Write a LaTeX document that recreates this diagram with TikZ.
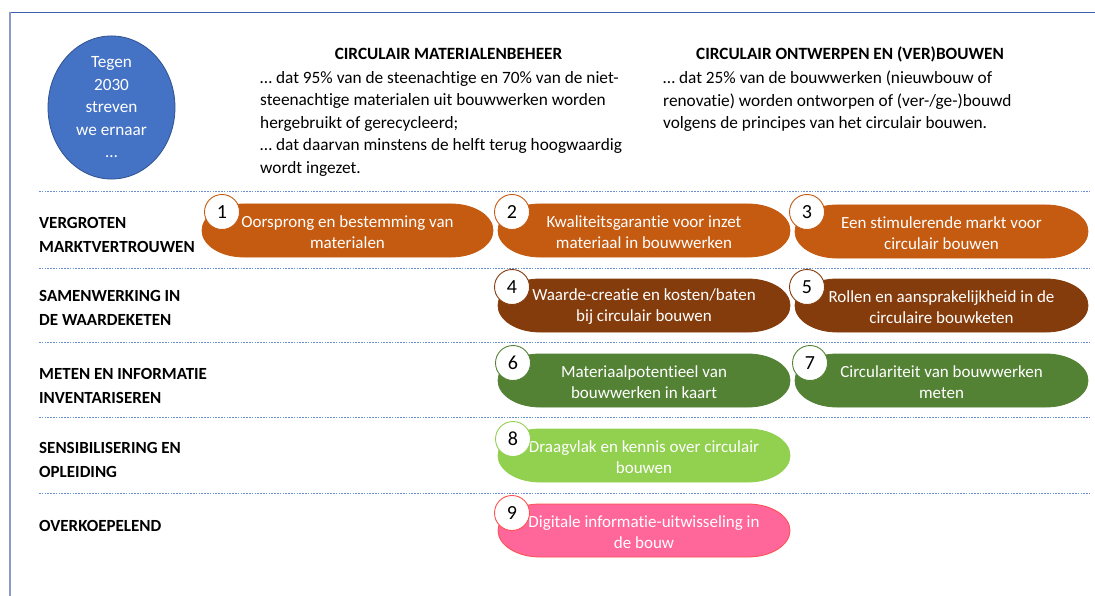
\documentclass[tikz,border=0pt]{standalone}
\usepackage{fontspec}
\setmainfont{Carlito}[Ligatures={NoCommon}]
\usetikzlibrary{shapes.geometric}
\definecolor{cOrange}{HTML}{C55A11}
\definecolor{cBrown}{HTML}{843C0C}
\definecolor{cGreen}{HTML}{548235}
\definecolor{cLight}{HTML}{92D050}
\definecolor{cPink}{HTML}{FF6699}
\definecolor{cRed}{HTML}{FF4F4F}
\definecolor{cBlue}{HTML}{4472C4}
\definecolor{cBlueDark}{HTML}{2F528F}
\definecolor{cFrameTop}{HTML}{3A62AE}
\definecolor{cFrameLeft}{HTML}{8A9CC6}
\definecolor{cSep}{HTML}{6A8FD0}
\tikzset{
  pillshape/.style={fill=#1, draw=#1, line width=0.8pt},
  pilltext/.style={text=white, align=center, inner sep=0pt,
    font=\fontsize{17}{21}\selectfont},
  numcircle/.style={circle, fill=white, draw=#1, line width=0.9pt,
    minimum size=35pt, inner sep=0pt, text=black,
    font=\fontsize{20}{22}\selectfont},
  rowlabel/.style={anchor=west, align=left, inner sep=0pt,
    font=\bfseries\fontsize{17}{24}\selectfont},
  headtitle/.style={inner sep=0pt, font=\bfseries\fontsize{17.2}{20}\selectfont},
  headbody/.style={anchor=north west, align=left, inner sep=0pt,
    font=\fontsize{17.3}{22.5}\selectfont},
  sepline/.style={draw=cSep, line width=0.8pt, dash pattern=on 1.6pt off 1.2pt},
}
\newcommand\mypill[4]{%
  \path[pillshape=#4] (#1+42,#2) -- (#3-42,#2)
    arc[start angle=-90,end angle=90,x radius=42,y radius=26.5]
    -- (#1+42,#2+53)
    arc[start angle=90,end angle=270,x radius=42,y radius=26.5] -- cycle;}
\begin{document}
\begin{tikzpicture}[x=1pt,y=-1pt]
\useasboundingbox (0,0) rectangle (1095,596);
\fill[white] (0,0) rectangle (1095,596);
% frame
\draw[cFrameTop, line width=1.2pt] (10,12.5) -- (1095,12.5);
\draw[cFrameLeft, line width=1.8pt] (10,12.5) -- (10,596);
% goal ellipse
\node[ellipse, fill=cBlue, draw=cBlueDark, line width=0.8pt,
  minimum width=127pt, minimum height=141pt, inner sep=0pt,
  text=white, align=center, font=\fontsize{17.2}{22.5}\selectfont]
  (goal) at (111.5,107.5) {Tegen\\2030\\streven\\we ernaar\\…};
% headers
\node[headtitle] (h1) at (448.5,54) {CIRCULAIR MATERIALENBEHEER};
\node[headbody] (b1) at (260,71) {… dat 95\% van de steenachtige en 70\% van de niet-\\steenachtige materialen uit bouwwerken worden\\hergebruikt of gerecycleerd;\\… dat daarvan minstens de helft terug hoogwaardig\\wordt ingezet.};
\node[headtitle] (h2) at (850,54) {CIRCULAIR ONTWERPEN EN (VER)BOUWEN};
\node[headbody] (b2) at (663,71) {… dat 25\% van de bouwwerken (nieuwbouw of\\renovatie) worden ontworpen of (ver-/ge-)bouwd\\volgens de principes van het circulair bouwen.};
% separators
\foreach \yy in {191.5,268,342,417.5,493.5}
  \draw[sepline] (39,\yy) -- (1090,\yy);
% row labels
\node[rowlabel] (r1) at (39,235) {VERGROTEN\\MARKTVERTROUWEN};
\node[rowlabel] (r2) at (39,308) {SAMENWERKING IN\\DE WAARDEKETEN};
\node[rowlabel] (r3) at (39,386) {METEN EN INFORMATIE\\INVENTARISEREN};
\node[rowlabel] (r4) at (39,460) {SENSIBILISERING EN\\OPLEIDING};
\node[rowlabel] (r5) at (39,526) {OVERKOEPELEND};
% pills
\mypill{202}{204}{493}{cOrange}
\mypill{498}{204}{790}{cOrange}
\mypill{795}{205}{1088}{cOrange}
\mypill{498}{279}{790}{cBrown}
\mypill{795}{279}{1088}{cBrown}
\mypill{498}{354}{790}{cGreen}
\mypill{795}{354}{1088}{cGreen}
\mypill{498}{429}{790}{cLight}
\path[fill=cPink, draw=cRed, line width=0.8pt] (498+42,504) -- (790-42,504)
    arc[start angle=-90,end angle=90,x radius=42,y radius=26.5]
    -- (498+42,504+53)
    arc[start angle=90,end angle=270,x radius=42,y radius=26.5] -- cycle;
\node[pilltext] (p1) at (347.5,232) {Oorsprong en bestemming van\\materialen};
\node[pilltext] (p2) at (644,232) {Kwaliteitsgarantie voor inzet\\materiaal in bouwwerken};
\node[pilltext] (p3) at (941.5,233) {Een stimulerende markt voor\\circulair bouwen};
\node[pilltext] (p4) at (644,307) {Waarde-creatie en kosten/baten\\bij circulair bouwen};
\node[pilltext] (p5) at (941.5,307) {Rollen en aansprakelijkheid in de\\circulaire bouwketen};
\node[pilltext] (p6) at (644,382) {Materiaalpotentieel van\\bouwwerken in kaart};
\node[pilltext] (p7) at (941.5,382) {Circulariteit van bouwwerken\\meten};
\node[pilltext] (p8) at (644,457) {Draagvlak en kennis over circulair\\bouwen};
\node[pilltext] (p9) at (644,532) {Digitale informatie-uitwisseling in\\de bouw};
% number circles
\node[numcircle=cOrange] (n1) at (222,212) {1};
\node[numcircle=cOrange] (n2) at (512,212) {2};
\node[numcircle=cOrange] (n3) at (807,212) {3};
\node[numcircle=cBrown] (n4) at (512,287) {4};
\node[numcircle=cBrown] (n5) at (807,287) {5};
\node[numcircle=cGreen] (n6) at (513,363) {6};
\node[numcircle=cGreen] (n7) at (810,363) {7};
\node[numcircle=cLight] (n8) at (513,439) {8};
\node[numcircle=cRed] (n9) at (512,513) {9};
\end{tikzpicture}
\end{document}
